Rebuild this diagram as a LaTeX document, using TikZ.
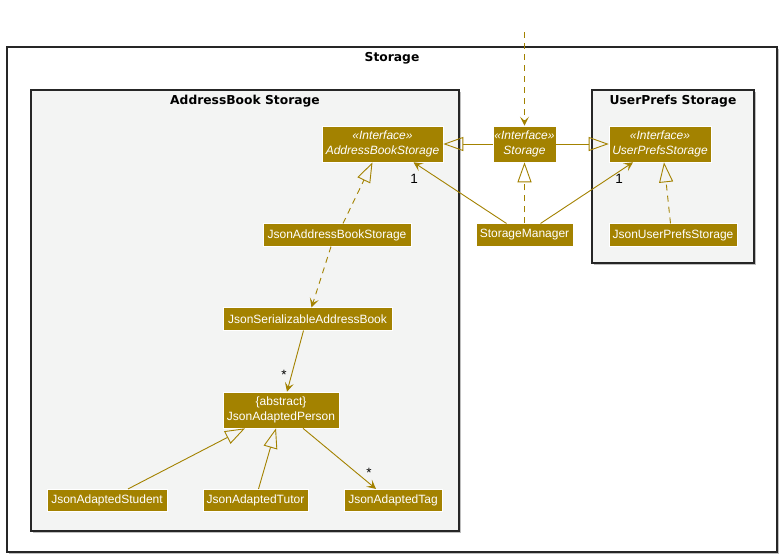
\documentclass[tikz,border=0pt]{standalone}
\usepackage{fontspec}
\setmainfont{Liberation Sans}
\newfontfamily\titlefont{DejaVu Sans}
\usetikzlibrary{arrows.meta,calc}

\definecolor{gold}{RGB}{163,130,0}
\definecolor{pkgfill}{RGB}{243,244,243}
\definecolor{shadowgray}{RGB}{190,190,190}

\begin{document}
\begin{tikzpicture}[x=1pt,y=-1pt,
  cls/.style={fill=gold, draw=white, line width=0.6pt, text=white, inner sep=0pt,
    align=center, font=\fontsize{12}{14.5}\selectfont, minimum height=22.5pt},
  cls2/.style={cls, minimum height=36pt},
  pkgshadow/.style={fill=shadowgray},
  pkg/.style={draw=black!85, line width=1.2pt},
  ptitle/.style={font=\titlefont\bfseries\fontsize{12.3}{14}\selectfont, inner sep=0pt},
  conn/.style={draw=gold, line width=0.9pt},
  nav/.style={conn, -{Stealth[length=9pt,width=9pt,inset=4pt]}},
  ext/.style={conn, -{Triangle[open,length=20pt,width=14pt]}},
  dep/.style={dash pattern=on 6pt off 5pt},
  mult/.style={font=\fontsize{13.5}{15}\selectfont, inner sep=0pt}
]
\useasboundingbox (0,0) rectangle (783,558);

% package frames with their drop shadows
\fill[pkgshadow] (8.8,48.8) rectangle (778.8,553.8);
\filldraw[pkg, fill=white] (7,47) rectangle (777,552);
\node[ptitle] (tStorage) at (392,58) {Storage};

\fill[pkgshadow] (32.8,91.8) rectangle (460.8,532.8);
\filldraw[pkg, fill=pkgfill] (31,90) rectangle (459,531);
\node[ptitle] (tAB) at (245,101) {AddressBook Storage};

\fill[pkgshadow] (593.8,91.8) rectangle (755.8,264.8);
\filldraw[pkg, fill=pkgfill] (592,90) rectangle (754,263);
\node[ptitle] (tUP) at (673,101) {UserPrefs Storage};

% classes
\node[cls2, minimum width=121pt] (abs) at (382.5,144) {\textit{«Interface»}\\\textit{AddressBookStorage}};
\node[cls2, minimum width=63pt] (st) at (524.5,144) {\textit{«Interface»}\\\textit{Storage}};
\node[cls2, minimum width=102pt] (ups) at (660,144) {\textit{«Interface»}\\\textit{UserPrefsStorage}};
\node[cls, minimum width=97pt] (sm) at (524.5,235) {StorageManager};
\node[cls, minimum width=128pt] (jups) at (673,235) {JsonUserPrefsStorage};
\node[cls, minimum width=148pt] (jabs) at (337,235) {JsonAddressBookStorage};
\node[cls, minimum width=169pt] (jsab) at (307.5,319) {JsonSerializableAddressBook};
\node[cls2, minimum width=116pt] (jap) at (281,410) {\{abstract\}\\JsonAdaptedPerson};
\node[cls, minimum width=120pt] (jas) at (107,500.5) {JsonAdaptedStudent};
\node[cls, minimum width=105pt] (jat) at (255.5,500.5) {JsonAdaptedTutor};
\node[cls, minimum width=98pt] (jtag) at (393,500.5) {JsonAdaptedTag};

\coordinate (entry) at (524.5,32);

% connectors
\draw[nav, dep] (entry) -- (st.north);
\draw[ext] (st.west) -- (abs.east);
\draw[ext] (st.east) -- (ups.west);
\draw[ext, dep] (sm.north) -- (st.south);
\draw[nav] ($(sm.north)+(-18,0)$) -- ($(abs.south)+(31,0)$);
\draw[nav] ($(sm.north)+(16,0)$) -- ($(ups.south)+(-27,0)$);
\draw[ext, dep] ($(jups.north)+(-2.5,0)$) -- ($(ups.south)+(4,0)$);
\draw[ext, dep] ($(jabs.north)+(6,0)$) -- ($(abs.south)+(-10,0)$);
\draw[nav, dep] ($(jabs.south)+(-6,0)$) -- ($(jsab.north)+(4,0)$);
\draw[nav] ($(jsab.south)+(-4,0)$) -- ($(jap.north)+(6,0)$);
\draw[ext] ($(jas.north)+(21,0)$) -- ($(jap.south)+(-36,0)$);
\draw[ext] ($(jat.north)+(3,0)$) -- ($(jap.south)+(-5,0)$);
\draw[nav] ($(jap.south)+(22,0)$) -- ($(jtag.north)+(-17,0)$);

% multiplicities
\node[mult] (m1) at (414,179) {1};
\node[mult] (m2) at (619,179) {1};
\node[mult] (m3) at (284,375) {*};
\node[mult] (m4) at (369,473) {*};
\end{tikzpicture}
\end{document}
